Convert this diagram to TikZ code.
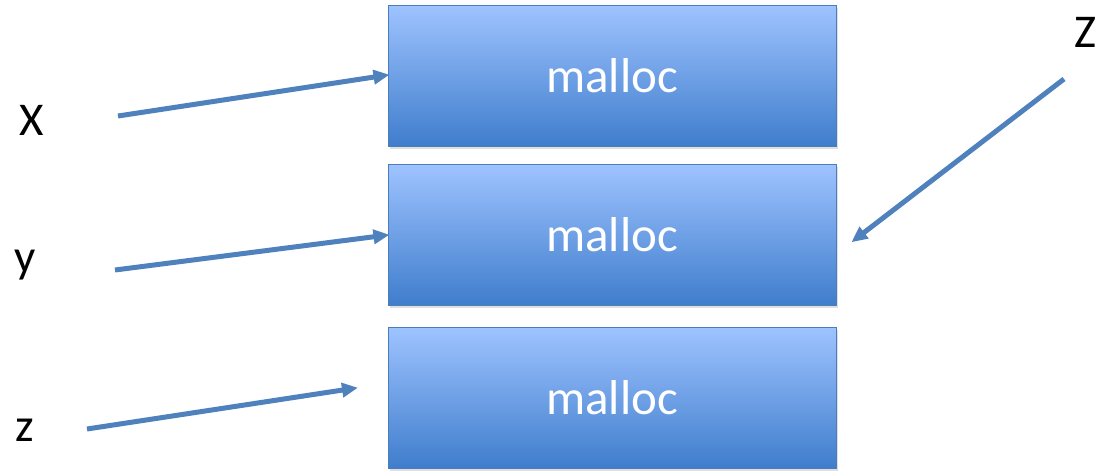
\documentclass[tikz,border=0pt]{standalone}
\usepackage{fontspec}
\setmainfont{Carlito}
\usetikzlibrary{arrows.meta,shadows,fadings}
\definecolor{boxtop}{HTML}{9EC3FF}
\definecolor{boxbot}{HTML}{3F7DCC}
\definecolor{boxedge}{HTML}{4A7EBB}
\definecolor{arrowc}{HTML}{4F81BD}
\tikzset{
  mbox/.style={draw=boxedge, line width=1pt, top color=boxtop, bottom color=boxbot,
    minimum width=448pt, minimum height=141pt, inner sep=0pt,
    text=white, font=\fontsize{49}{58}\selectfont,
    drop shadow={opacity=0.25, shadow xshift=1.5pt, shadow yshift=-2.5pt}},
  lbl/.style={font=\fontsize{47}{56}\selectfont, inner sep=0pt},
  ptr/.style={draw=arrowc, line width=5pt, -{Triangle[length=16pt,width=14pt]}, shorten >=-2pt}
}
\begin{document}
\begin{tikzpicture}[x=1pt,y=-1pt]
\useasboundingbox (0,0) rectangle (1105,472);
\node[mbox] (b1) at (612,76) {malloc};
\node[mbox] (b2) at (612,235) {malloc};
\node[mbox] (b3) at (612,398) {malloc};
\node[lbl] (lx) at (32,120) {X};
\node[lbl] (ly) at (25,265) {y};
\node[lbl] (lz) at (25,430) {z};
\node[lbl] (lZ) at (1085,32) {Z};
\coordinate (sx) at (118,116);
\coordinate (sy) at (115,270);
\coordinate (sz) at (87,429);
\coordinate (sZ) at (1064,79);
\coordinate (ez) at (356,388);
\coordinate (eZ) at (853,241);
\draw[ptr] (sx) -- (b1.west |- 0,75);
\draw[ptr] (sy) -- (b2.west |- 0,235);
\draw[ptr] (sz) -- (ez);
\draw[ptr] (sZ) -- (eZ);
\end{tikzpicture}
\end{document}
